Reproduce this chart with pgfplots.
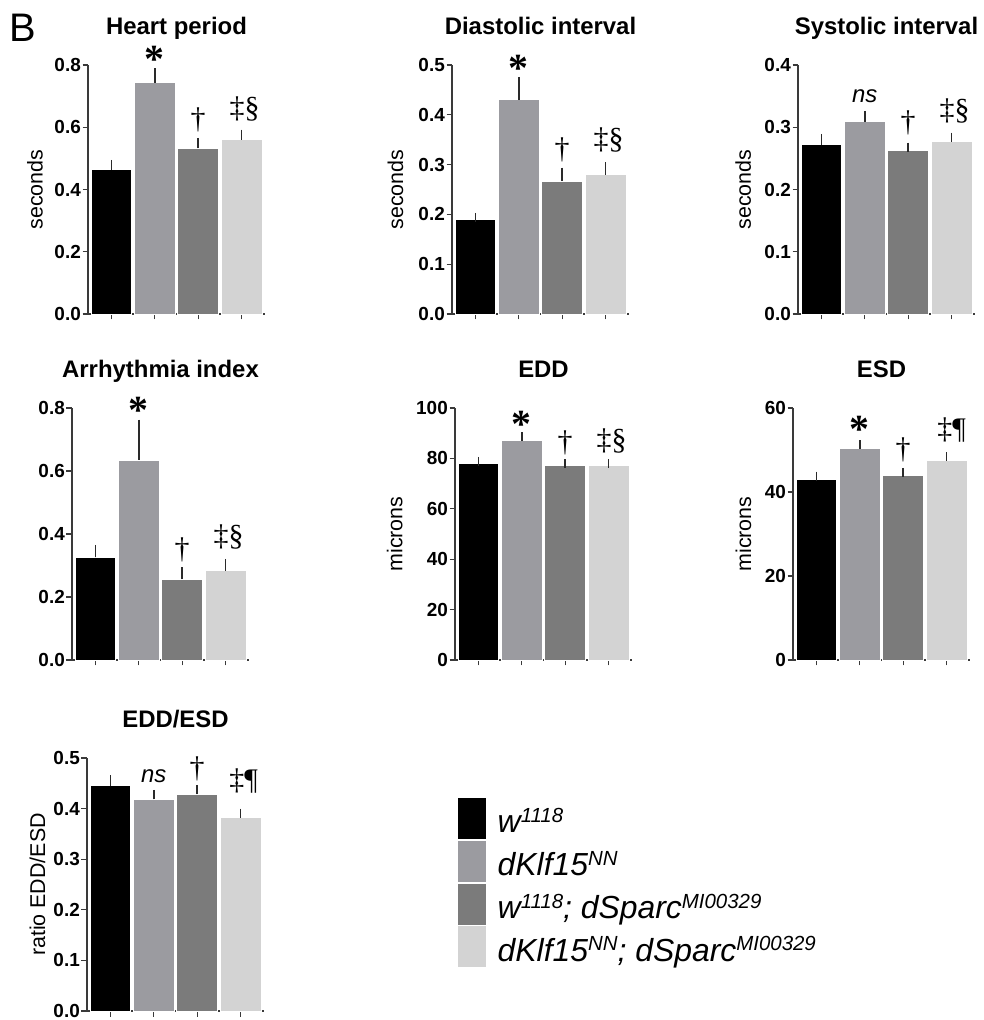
\documentclass[border=0pt]{standalone}
\usepackage{pgfplots}
\pgfplotsset{compat=1.18}
\usepackage{fontspec}
\setmainfont{Liberation Sans}
\newfontfamily\serif{Liberation Serif}
\definecolor{c1}{HTML}{000000}
\definecolor{c2}{HTML}{9B9BA0}
\definecolor{c3}{HTML}{7B7B7B}
\definecolor{c4}{HTML}{D3D3D3}
\definecolor{axc}{HTML}{3A3A3A}
\definecolor{errc}{HTML}{2A2A2A}
\newcommand\sups[1]{\raisebox{10.5bp}{\fontsize{20.5}{20.5}\selectfont #1}}
\newcommand\tickfont{\bfseries\fontsize{19}{19}\selectfont}
\pgfplotsset{
 panel/.style={
  scale only axis, width=177bp, anchor=south west,
  xmin=0.46, xmax=4.54, ymin=0,
  axis x line*=bottom, axis y line*=left,
  axis line style={line width=1.4bp, draw=axc},
  xtick={1,2,3,4}, xticklabels={},
  tick align=outside, major tick length=5.5bp,
  tick style={line width=1.3bp, draw=axc},
  yticklabel style={inner sep=1.5bp, font=\tickfont},
  /pgf/number format/assume math mode=true,
  scaled y ticks=false,
  title style={font=\bfseries\fontsize{24}{24}\selectfont, at={(axis description cs:0.5,1)}, anchor=base, yshift=25bp},
  ylabel style={font=\fontsize{21.5}{21.5}\selectfont, anchor=center},
  clip=false,
 },
 dec/.style={yticklabel style={/pgf/number format/fixed, /pgf/number format/fixed zerofill, /pgf/number format/precision=1}},
 ylx/.style={ylabel style={at={(axis description cs:#1,0.5)}}},
 gbar/.style={ybar, bar shift=0pt, bar width=0.94, draw=white, line width=0.8bp, fill=#1,
   legend image code/.code={\draw[##1, draw=white, line width=0.8bp] (0bp,-18bp) rectangle (29bp,24bp);},
   error bars/.cd, y dir=plus, y explicit,
   error bar style={line width=1.6bp, draw=errc},
   error mark options={line width=1.8bp, draw=errc, mark size=4.5bp}},
}
\tikzset{
 ann/.style={anchor=south, inner sep=0pt, font=\serif\fontsize{30}{30}\selectfont, yshift=10bp},
 astk/.style={anchor=south, inner sep=0pt, font=\serif\bfseries\fontsize{40}{40}\selectfont, yshift=0bp},
 nsl/.style={anchor=south, inner sep=0pt, font=\itshape\fontsize{24}{24}\selectfont, yshift=12bp},
}
\begin{document}
\begin{tikzpicture}
\path[use as bounding box] (0,0) rectangle (984bp,1020bp);
\node[anchor=base west, inner sep=0pt, font=\fontsize{40}{40}\selectfont] at (9bp,978bp) {B};

% Heart period
\begin{axis}[panel, dec, at={(88bp,706bp)}, height=249bp, ymax=0.8, ytick={0,0.2,0.4,0.6,0.8},
  title={Heart period}, ylabel={seconds}, ylx=-0.30]
\addplot[gbar=c1] coordinates {(1,0.463) +- (0,0.018)};
\addplot[gbar=c2] coordinates {(2,0.743) +- (0,0.032)};
\addplot[gbar=c3] coordinates {(3,0.532) +- (0,0.019)};
\addplot[gbar=c4] coordinates {(4,0.560) +- (0,0.018)};
\node[astk] at (axis cs:2,0.775) {*};
\node[ann] at (axis cs:3,0.551) {†};
\node[ann, xshift=3bp, yshift=3bp] at (axis cs:4,0.578) {‡§};
\end{axis}

% Diastolic interval
\begin{axis}[panel, dec, at={(452bp,706bp)}, height=249bp, ymax=0.5, ytick={0,0.1,0.2,0.3,0.4,0.5},
  title={Diastolic interval}, ylabel={seconds}, ylx=-0.32]
\addplot[gbar=c1] coordinates {(1,0.189) +- (0,0.005)};
\addplot[gbar=c2] coordinates {(2,0.430) +- (0,0.037)};
\addplot[gbar=c3] coordinates {(3,0.267) +- (0,0.018)};
\addplot[gbar=c4] coordinates {(4,0.280) +- (0,0.016)};
\node[astk] at (axis cs:2,0.466) {*};
\node[ann] at (axis cs:3,0.285) {†};
\node[ann, xshift=3bp, yshift=4bp] at (axis cs:4,0.296) {‡§};
\end{axis}

% Systolic interval
\begin{axis}[panel, dec, at={(798bp,706bp)}, height=249bp, ymax=0.4, ytick={0,0.1,0.2,0.3,0.4},
  title={Systolic interval}, ylabel={seconds}, ylx=-0.31]
\addplot[gbar=c1] coordinates {(1,0.272) +- (0,0.010)};
\addplot[gbar=c2] coordinates {(2,0.309) +- (0,0.010)};
\addplot[gbar=c3] coordinates {(3,0.263) +- (0,0.005)};
\addplot[gbar=c4] coordinates {(4,0.277) +- (0,0.007)};
\node[nsl] at (axis cs:2,0.319) {ns};
\node[ann, yshift=2bp] at (axis cs:3,0.268) {†};
\node[ann, xshift=3bp, yshift=4bp] at (axis cs:4,0.284) {‡§};
\end{axis}

% Arrhythmia index
\begin{axis}[panel, dec, at={(72bp,360bp)}, height=252bp, ymax=0.8, ytick={0,0.2,0.4,0.6,0.8},
  title={Arrhythmia index}]
\addplot[gbar=c1] coordinates {(1,0.326) +- (0,0.025)};
\addplot[gbar=c2] coordinates {(2,0.635) +- (0,0.114)};
\addplot[gbar=c3] coordinates {(3,0.256) +- (0,0.024)};
\addplot[gbar=c4] coordinates {(4,0.284) +- (0,0.023)};
\node[astk] at (axis cs:2,0.749) {*};
\node[ann] at (axis cs:3,0.280) {†};
\node[ann, xshift=3bp, yshift=4bp] at (axis cs:4,0.307) {‡§};
\end{axis}

% EDD
\begin{axis}[panel, at={(455bp,360bp)}, height=252bp, ymax=100, ytick={0,20,40,60,80,100},
  title={EDD}, ylabel={microns}, ylx=-0.34]
\addplot[gbar=c1] coordinates {(1,77.9) +- (0,0.9)};
\addplot[gbar=c2] coordinates {(2,87.1) +- (0,1.4)};
\addplot[gbar=c3] coordinates {(3,77.1) +- (0,0.8)};
\addplot[gbar=c4] coordinates {(4,77.1) +- (0,0.8)};
\node[astk, yshift=-1bp] at (axis cs:2,88.5) {*};
\node[ann, yshift=-2bp] at (axis cs:3,77.9) {†};
\node[ann, xshift=3bp] at (axis cs:4,77.9) {‡§};
\end{axis}

% ESD
\begin{axis}[panel, at={(793bp,360bp)}, height=252bp, ymax=60, ytick={0,20,40,60},
  title={ESD}, ylabel={microns}, ylx=-0.28]
\addplot[gbar=c1] coordinates {(1,43.0) +- (0,0.8)};
\addplot[gbar=c2] coordinates {(2,50.4) +- (0,0.8)};
\addplot[gbar=c3] coordinates {(3,43.9) +- (0,0.8)};
\addplot[gbar=c4] coordinates {(4,47.6) +- (0,0.8)};
\node[astk, yshift=2bp] at (axis cs:2,51.2) {*};
\node[ann] at (axis cs:3,44.7) {†};
\node[ann, xshift=5bp, yshift=4bp] at (axis cs:4,48.4) {‡¶};
\end{axis}

% EDD/ESD
\begin{axis}[panel, dec, at={(87bp,9bp)}, height=253bp, ymax=0.5, ytick={0,0.1,0.2,0.3,0.4,0.5},
  title={EDD/ESD}, ylabel={ratio EDD/ESD}, ylx=-0.28,
  legend style={draw=none, fill=none, at={(axis description cs:2.09,0.846)}, anchor=north west,
    inner sep=0pt, outer sep=0pt, row sep=0bp, font=\itshape\fontsize{32}{32}\selectfont,
    nodes={inner sep=0pt}, /tikz/every odd column/.append style={column sep=11bp}},
  legend cell align=left]
\addplot[gbar=c1] coordinates {(1,0.445) +- (0,0.012)};
\addlegendentry{w\sups{1118}}
\addplot[gbar=c2] coordinates {(2,0.418) +- (0,0.010)};
\addlegendentry{dKlf15\sups{NN}}
\addplot[gbar=c3] coordinates {(3,0.428) +- (0,0.010)};
\addlegendentry{w\sups{1118}; dSparc\sups{MI00329}}
\addplot[gbar=c4] coordinates {(4,0.383) +- (0,0.008)};
\addlegendentry{dKlf15\sups{NN}; dSparc\sups{MI00329}}
\node[nsl] at (axis cs:2,0.4275) {ns};
\node[ann, yshift=-1bp] at (axis cs:3,0.437) {†};
\node[ann, xshift=3bp, yshift=10bp] at (axis cs:4,0.391) {‡¶};
\end{axis}
\end{tikzpicture}
\end{document}
